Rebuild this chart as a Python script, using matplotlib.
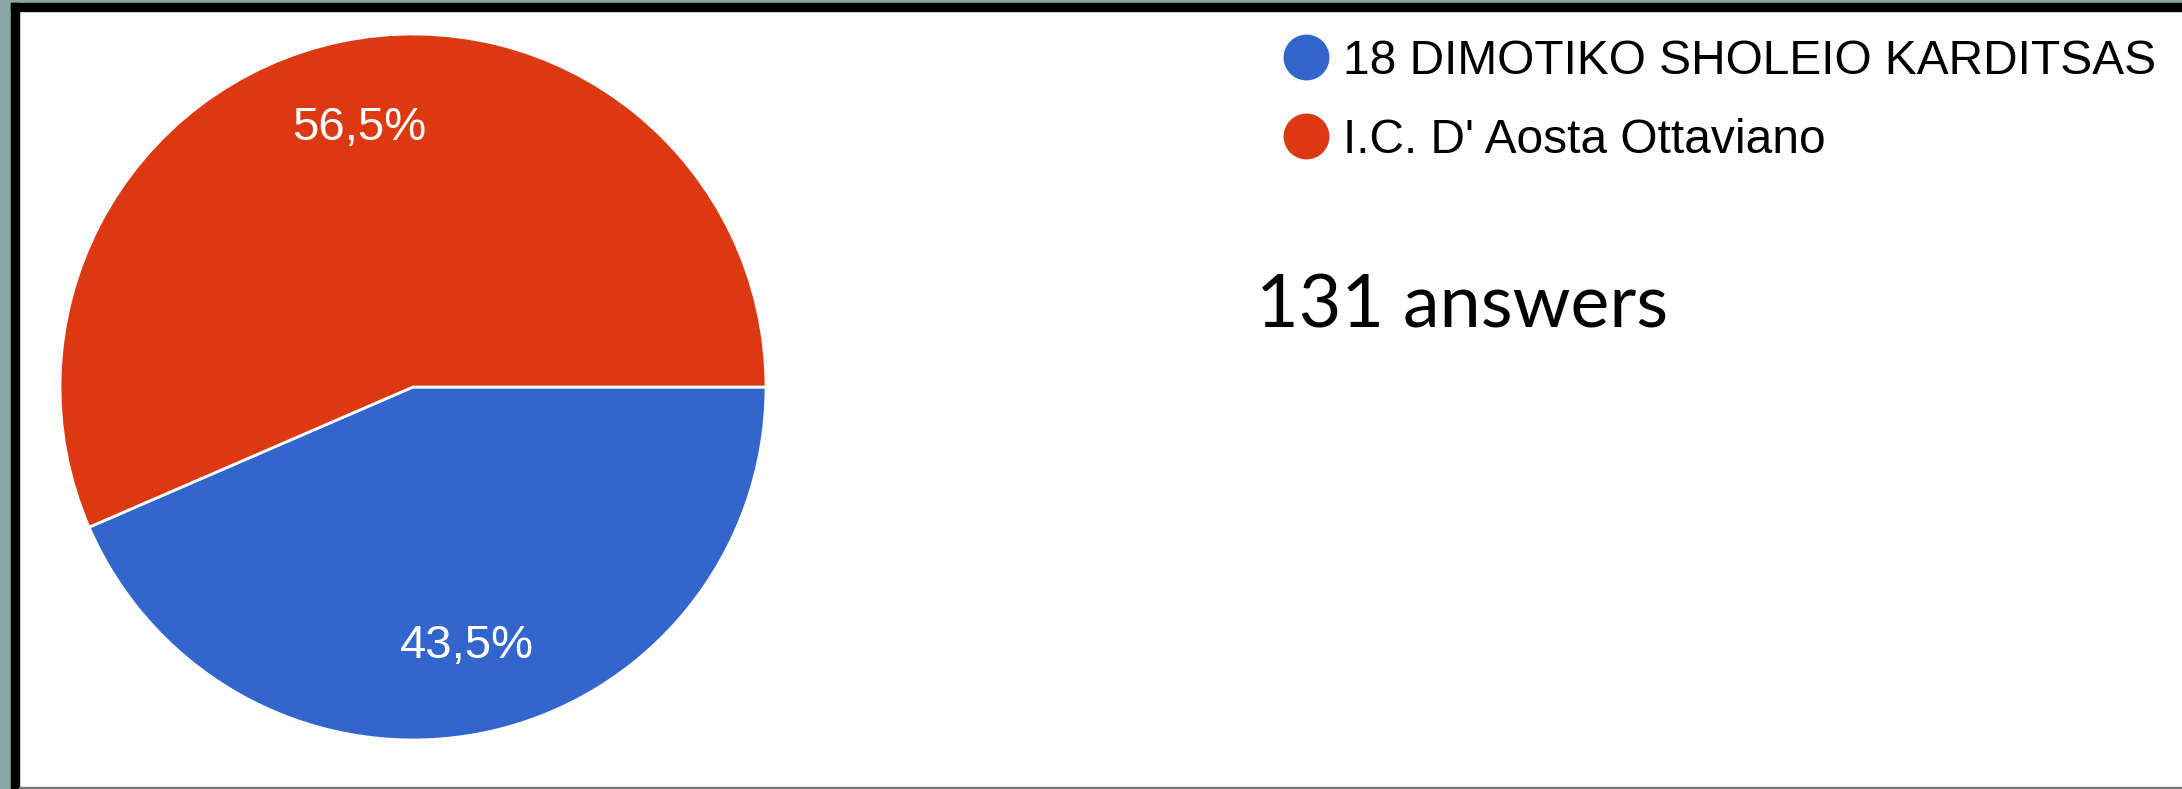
import matplotlib
matplotlib.use("Agg")
import matplotlib.pyplot as plt
from matplotlib.patches import Rectangle
from matplotlib.lines import Line2D

W, H = 2182, 789

schools = ["18 DIMOTIKO SHOLEIO KARDITSAS", "I.C. D' Aosta Ottaviano"]
shares = [43.5, 56.5]
colors = ["#3366cc", "#dc3912"]
total_answers = 131


def fx(x):
    return x / W


def fy(y):
    return 1 - y / H


fig = plt.figure(figsize=(W / 100, H / 100), dpi=100)
fig.patch.set_facecolor("white")

# frame: grey strip + black border on left/top, thin grey line at the bottom
fig.patches.append(Rectangle((0, 0), fx(11), 1, transform=fig.transFigure,
                             color="#8ba6a7", zorder=0))
fig.patches.append(Rectangle((0, fy(3)), 1, 1 - fy(3), transform=fig.transFigure,
                             color="#8ba6a7", zorder=0))
fig.patches.append(Rectangle((fx(11), 0), fx(8), fy(3), transform=fig.transFigure,
                             color="black", zorder=1))
fig.patches.append(Rectangle((fx(11), fy(11)), 1, fy(3) - fy(11), transform=fig.transFigure,
                             color="black", zorder=1))
fig.patches.append(Rectangle((fx(19), 0), 1, fy(787), transform=fig.transFigure,
                             color="#777777", zorder=1))

# pie, centre (413, 387), radius 353 px
cx, cy, r = 413, 387, 353
ax = fig.add_axes([fx(cx - r), fy(cy + r), 2 * r / W, 2 * r / H])
wedges, texts, autotexts = ax.pie(
    shares, colors=colors, startangle=0, counterclock=False,
    autopct=lambda p: f"{p:.1f}%".replace(".", ","), pctdistance=0.75,
    wedgeprops=dict(edgecolor="white", linewidth=2),
    textprops=dict(color="white", fontsize=34, family="Liberation Sans"),
)
ax.set_xlim(-1, 1)
ax.set_ylim(-1, 1)
ax.axis("off")

handles = [Line2D([], [], marker="o", linestyle="none", markersize=32,
                  markerfacecolor=c, markeredgecolor=c) for c in colors]
fig.legend(handles, schools, loc="upper left", bbox_to_anchor=(fx(1289), fy(39)),
           frameon=False, prop=dict(family="Liberation Sans", size=34.5),
           handlelength=0.7, handletextpad=0.42, labelspacing=0.7,
           borderpad=0, borderaxespad=0)

fig.text(fx(1256), fy(327), f"{total_answers} answers", fontsize=53,
         family="Lato", color="black", va="baseline", ha="left")

fig.savefig("out.png", dpi=100)
